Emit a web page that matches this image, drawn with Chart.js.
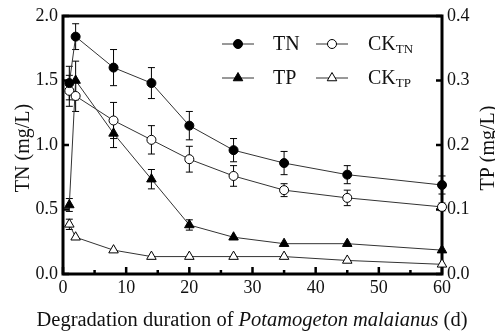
<!DOCTYPE html>
<html>
<head>
<meta charset="utf-8">
<script src="https://cdn.jsdelivr.net/npm/chart.js@4.4.1/dist/chart.umd.min.js"></script>
<style>
html, body { margin: 0; padding: 0; background: #fff; }
#wrap { width: 495px; height: 335px; }
</style>
</head>
<body>
<div id="wrap"><canvas id="chart" width="495" height="335"></canvas></div>
<script>
// --- DATI ---
const days = [1, 2, 8, 14, 20, 27, 35, 45, 60];
const tn = [1.48, 1.84, 1.60, 1.48, 1.15, 0.96, 0.86, 0.77, 0.69];
const tnErr = [0.13, 0.10, 0.14, 0.12, 0.11, 0.09, 0.09, 0.07, 0.07];
const ckTn = [1.42, 1.38, 1.19, 1.04, 0.89, 0.76, 0.65, 0.59, 0.52];
const ckTnErr = [0.12, 0.12, 0.14, 0.11, 0.10, 0.08, 0.05, 0.06, 0.03];
const tp = [0.107, 0.300, 0.218, 0.147, 0.076, 0.057, 0.047, 0.047, 0.037];
const tpErr = [0.01, 0.03, 0.022, 0.015, 0.008, 0, 0, 0, 0];
const ckTp = [0.077, 0.057, 0.037, 0.027, 0.027, 0.027, 0.027, 0.021, 0.015];
const ckTpErr = [0.008, 0, 0, 0, 0, 0, 0, 0, 0];
const xTicks = [0, 10, 20, 30, 40, 50, 60];
const tnTicks = [0, 0.5, 1.0, 1.5, 2.0];
const tpTicks = [0, 0.1, 0.2, 0.3, 0.4];

const SERIF = '"Liberation Serif", "Times New Roman", serif';

function pts(ys) {
    return days.map((d, i) => ({ x: d, y: ys[i] }));
}

function series(label, ys, axis, style, filled) {
    return {
        label,
        data: pts(ys),
        yAxisID: axis,
        borderColor: '#333',
        borderWidth: 1,
        pointStyle: style,
        pointRadius: style === 'triangle' ? 5.5 : 4.5,
        pointBorderColor: '#000',
        pointBorderWidth: 1,
        pointBackgroundColor: filled ? '#000' : '#fff',
        tension: 0,
        clip: false
    };
}

const errorSets = [
    { ds: 0, err: tnErr },
    { ds: 1, err: ckTnErr },
    { ds: 2, err: tpErr },
    { ds: 3, err: ckTpErr }
];

// --- DECORAZIONI: cornice, tacche interne, barre d'errore, legenda, titoli ---
const decoPlugin = {
    id: 'deco',
    beforeDatasetsDraw(chart) {
        const { ctx, chartArea: a, scales } = chart;
        ctx.save();
        ctx.strokeStyle = '#000';
        // barre d'errore
        ctx.lineWidth = 1;
        errorSets.forEach(s => {
            const dset = chart.data.datasets[s.ds];
            const ys = scales[dset.yAxisID];
            dset.data.forEach((p, i) => {
                const e = s.err[i];
                if (!e) return;
                const px = scales.x.getPixelForValue(p.x);
                const top = ys.getPixelForValue(p.y + e);
                const bot = ys.getPixelForValue(p.y - e);
                ctx.beginPath();
                ctx.moveTo(px, top); ctx.lineTo(px, bot);
                ctx.moveTo(px - 3.5, top); ctx.lineTo(px + 3.5, top);
                ctx.moveTo(px - 3.5, bot); ctx.lineTo(px + 3.5, bot);
                ctx.stroke();
            });
        });
        // cornice
        ctx.lineWidth = 3;
        ctx.strokeRect(a.left, a.top, a.right - a.left, a.bottom - a.top);
        // tacche interne
        ctx.lineWidth = 2.5;
        ctx.beginPath();
        for (let v = 0; v <= 60; v += 5) {
            const px = scales.x.getPixelForValue(v);
            const len = v % 10 === 0 ? 7 : 4;
            ctx.moveTo(px, a.bottom); ctx.lineTo(px, a.bottom - len);
        }
        tnTicks.forEach(v => {
            const py = scales.y.getPixelForValue(v);
            ctx.moveTo(a.left, py); ctx.lineTo(a.left + 6, py);
        });
        tpTicks.forEach(v => {
            const py = scales.y1.getPixelForValue(v);
            ctx.moveTo(a.right, py); ctx.lineTo(a.right - 6, py);
        });
        ctx.stroke();
        ctx.restore();
    },
    afterDraw(chart) {
        const { ctx, chartArea: a } = chart;
        ctx.save();
        ctx.fillStyle = '#111';
        ctx.textBaseline = 'alphabetic';
        // titolo asse x con corsivo
        const parts = [
            { t: 'Degradation duration of ', f: '20.5px ' + SERIF },
            { t: 'Potamogeton malaianus', f: 'italic 20.5px ' + SERIF },
            { t: ' (d)', f: '20.5px ' + SERIF }
        ];
        let total = 0;
        parts.forEach(p => { ctx.font = p.f; p.w = ctx.measureText(p.t).width; total += p.w; });
        let x = 252 - total / 2;
        parts.forEach(p => { ctx.font = p.f; ctx.fillText(p.t, x, 326); x += p.w; });
        // titoli assi y
        ctx.font = '20px ' + SERIF;
        ctx.textAlign = 'center';
        ctx.textBaseline = 'middle';
        const midY = (a.top + a.bottom) / 2 + 3;
        [[24, 'TN (mg/L)'], [489, 'TP (mg/L)']].forEach(([tx, t]) => {
            ctx.save();
            ctx.translate(tx, midY);
            ctx.rotate(-Math.PI / 2);
            ctx.fillText(t, 0, 0);
            ctx.restore();
        });
        // legenda
        const rows = [
            { ds: 0, x: 222, y: 44, text: 'TN' },
            { ds: 1, x: 316, y: 44, text: 'CK', sub: 'TN' },
            { ds: 2, x: 222, y: 78, text: 'TP' },
            { ds: 3, x: 316, y: 78, text: 'CK', sub: 'TP' }
        ];
        rows.forEach(r => {
            const dset = chart.data.datasets[r.ds];
            ctx.strokeStyle = '#333';
            ctx.lineWidth = 1;
            ctx.beginPath();
            ctx.moveTo(r.x, r.y); ctx.lineTo(r.x + 32, r.y);
            ctx.stroke();
            ctx.strokeStyle = '#000';
            ctx.fillStyle = dset.pointBackgroundColor;
            Chart.helpers.drawPoint(ctx, {
                pointStyle: dset.pointStyle,
                radius: dset.pointRadius,
                rotation: 0,
                borderWidth: 1
            }, r.x + 16, r.y);
            ctx.fillStyle = '#111';
            ctx.textAlign = 'left';
            ctx.textBaseline = 'middle';
            ctx.font = '20px ' + SERIF;
            const tx = r.sub ? r.x + 52 : r.x + 51;
            ctx.fillText(r.text, tx, r.y + 1);
            if (r.sub) {
                const w = ctx.measureText(r.text).width;
                ctx.font = '13px ' + SERIF;
                ctx.fillText(r.sub, tx + w, r.y + 6);
            }
        });
        ctx.restore();
    }
};

const tickFont = { family: SERIF, size: 18 };

new Chart(document.getElementById('chart'), {
    type: 'line',
    data: {
        datasets: [
            series('TN', tn, 'y', 'circle', true),
            series('CK_TN', ckTn, 'y', 'circle', false),
            series('TP', tp, 'y1', 'triangle', true),
            series('CK_TP', ckTp, 'y1', 'triangle', false)
        ]
    },
    options: {
        responsive: false,
        animation: false,
        maintainAspectRatio: false,
        layout: { padding: { top: 16, left: 0, right: 0, bottom: 0 } },
        plugins: {
            legend: { display: false },
            tooltip: { enabled: false }
        },
        scales: {
            x: {
                type: 'linear',
                min: 0, max: 60,
                afterBuildTicks: s => { s.ticks = xTicks.map(v => ({ value: v })); },
                afterFit: s => { s.height = 61; },
                grid: { display: false, drawTicks: false },
                border: { display: false },
                ticks: { font: tickFont, color: '#111', padding: 3, maxRotation: 0 }
            },
            y: {
                position: 'left',
                min: 0, max: 2,
                afterBuildTicks: s => { s.ticks = tnTicks.map(v => ({ value: v })); },
                afterFit: s => { s.width = 63; },
                grid: { display: false, drawTicks: false },
                border: { display: false },
                ticks: { font: tickFont, color: '#111', padding: 5, callback: v => v.toFixed(1) }
            },
            y1: {
                position: 'right',
                min: 0, max: 0.4,
                afterBuildTicks: s => { s.ticks = tpTicks.map(v => ({ value: v })); },
                afterFit: s => { s.width = 53; },
                grid: { display: false, drawTicks: false },
                border: { display: false },
                ticks: { font: tickFont, color: '#111', padding: 5, callback: v => v.toFixed(1) }
            }
        }
    },
    plugins: [decoPlugin]
});
</script>
</body>
</html>
